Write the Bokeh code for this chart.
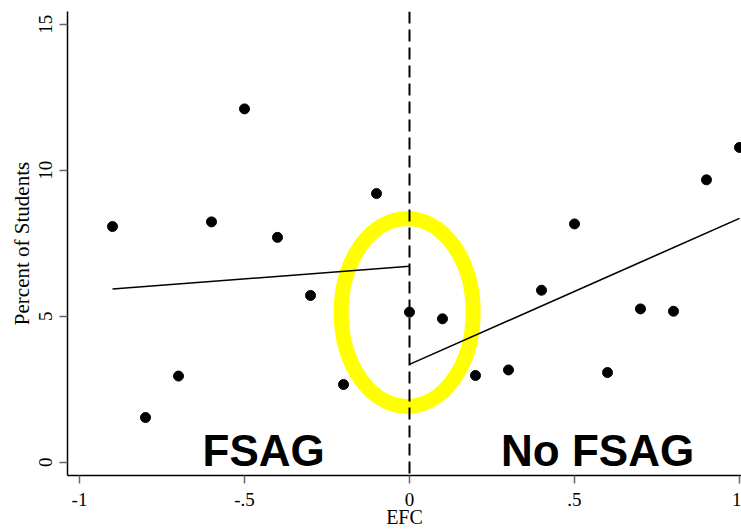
from bokeh.plotting import figure
from bokeh.models import Range1d, Span, Label, FixedTicker
from bokeh.embed import file_html
from bokeh.resources import INLINE

# Data
efc_left = [-0.9, -0.8, -0.7, -0.6, -0.5, -0.4, -0.3, -0.2, -0.1, 0.0]
pct_left = [8.07, 1.53, 2.95, 8.23, 12.1, 7.7, 5.71, 2.66, 9.2, 5.14]
efc_right = [0.1, 0.2, 0.3, 0.4, 0.5, 0.6, 0.7, 0.8, 0.9, 1.0]
pct_right = [4.91, 2.97, 3.16, 5.89, 8.16, 3.07, 5.25, 5.17, 9.67, 10.78]

# Fitted lines (endpoints)
fit_left_x = [-0.9, 0.0]
fit_left_y = [5.93, 6.71]
fit_right_x = [0.0, 1.0]
fit_right_y = [3.35, 8.35]

x_ticks = [-1, -0.5, 0, 0.5, 1]
x_tick_labels = {-1: "-1", -0.5: "-.5", 0: "0", 0.5: ".5", 1: "1"}
y_ticks = [0, 5, 10, 15]

cutoff = 0.0
highlight = dict(x=-0.007, y=5.13, w=0.40, h=6.44)

p = figure(width=741, height=530, output_backend="svg", toolbar_location=None,
           x_range=Range1d(-1.0364, 1.0061), y_range=Range1d(-0.455, 15.435),
           min_border_left=67, min_border_bottom=55, min_border_top=11, min_border_right=0)
p.outline_line_color = None
p.background_fill_color = "white"
p.border_fill_color = "white"
p.xgrid.visible = False
p.ygrid.visible = False

# Highlight ellipse
p.ellipse(x=[highlight["x"]], y=[highlight["y"]], width=highlight["w"], height=highlight["h"],
          fill_alpha=0, line_color="#FFFF00", line_width=15)

# Fit lines
p.line(fit_left_x, fit_left_y, line_color="black", line_width=1.6)
p.line(fit_right_x, fit_right_y, line_color="black", line_width=1.6)

# Points
p.scatter(efc_left + efc_right, pct_left + pct_right, size=10, color="black")

# Cutoff dashed line
p.add_layout(Span(location=cutoff, dimension="height", line_color="black",
                  line_width=2, line_dash="12 6"))

# Labels
p.add_layout(Label(x=-0.442, y=0.40, text="FSAG", text_align="center",
                   text_baseline="alphabetic", text_font="Liberation Sans",
                   text_font_style="bold", text_font_size="44px", text_color="black"))
p.add_layout(Label(x=0.57, y=0.40, text="No FSAG", text_align="center",
                   text_baseline="alphabetic", text_font="Liberation Sans",
                   text_font_style="bold", text_font_size="44px", text_color="black"))

# Axes styling
for ax in (p.xaxis[0], p.yaxis[0]):
    ax.axis_line_color = "black"
    ax.axis_line_width = 1.5
    ax.major_tick_line_color = "#666666"
    ax.major_tick_line_width = 1.5
    ax.major_tick_out = 8
    ax.major_tick_in = 0
    ax.minor_tick_line_color = None
    ax.major_label_text_font = "Liberation Serif"
    ax.major_label_text_font_size = "19px"
    ax.major_label_text_color = "black"
    ax.axis_label_text_font = "Liberation Serif"
    ax.axis_label_text_font_style = "normal"
    ax.axis_label_text_color = "black"

p.xaxis.ticker = FixedTicker(ticks=x_ticks)
p.xaxis.major_label_overrides = x_tick_labels
p.xaxis.axis_label = "EFC"
p.xaxis.axis_label_text_font_size = "20px"
p.xaxis.major_label_standoff = 9
p.xaxis.axis_label_standoff = -3

p.yaxis.ticker = FixedTicker(ticks=y_ticks)
p.yaxis.major_label_orientation = "vertical"
p.yaxis.axis_label = "Percent of Students"
p.yaxis.axis_label_text_font_size = "21px"
p.yaxis.major_label_standoff = 7
p.yaxis.axis_label_standoff = 3

open("out.html", "w").write(file_html(p, INLINE))
